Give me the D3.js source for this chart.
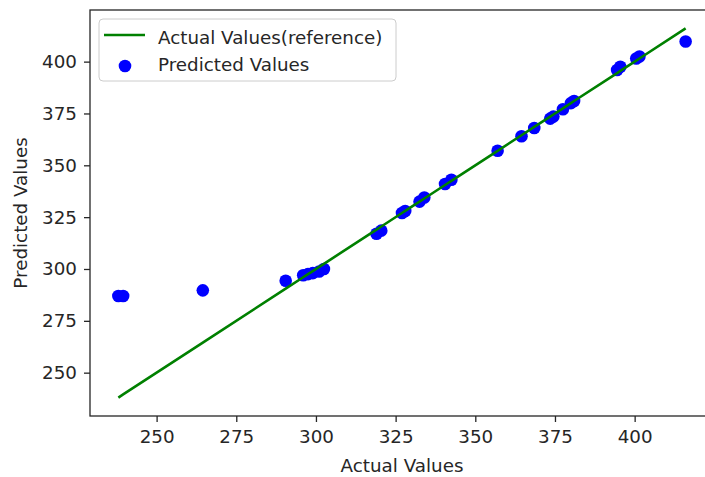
<!DOCTYPE html>
<html>
<head>
<meta charset="utf-8">
<script src="https://cdn.jsdelivr.net/npm/d3@7"></script>
<style>
  html, body { margin: 0; padding: 0; background: #fff; }
  svg { display: block; }
  text { font-family: "DejaVu Sans", sans-serif; fill: #262626; }
</style>
</head>
<body>
<svg id="chart" width="705" height="477"></svg>
<script>
// ---- data ----
const actualValues = [238, 239.5, 264.5, 290.5, 296, 297.5, 299, 301, 302.5,
  319, 320.5, 327, 328, 332.5, 334, 340.5, 342.5, 357, 364.5, 368.5,
  373.5, 374.5, 377.5, 380, 381, 394.5, 395.5, 400.5, 401.5, 416];
const predictedValues = [287, 287, 289.7, 294.3, 297, 297.5, 298, 298.8, 300,
  317, 318.5, 327, 328, 332.5, 334.5, 341, 343, 357, 364, 368,
  372.5, 373.5, 377, 380, 381, 396, 397.5, 401.5, 402.5, 409.7];
const tickValues = [250, 275, 300, 325, 350, 375, 400];
const legendLabels = ["Actual Values(reference)", "Predicted Values"];
const xLabel = "Actual Values";
const yLabel = "Predicted Values";

// ---- layout ----
const svg = d3.select("#chart");
const plot = { left: 90, right: 714, top: 10, bottom: 416 };
const fontSize = 18.3;

const dmin = Math.min(d3.min(actualValues), d3.min(predictedValues));
const dmax = Math.max(d3.max(actualValues), d3.max(predictedValues));
const pad = (dmax - dmin) * 0.05;
const xExt = d3.extent(actualValues);
const xPad = (xExt[1] - xExt[0]) * 0.05;

const x = d3.scaleLinear().domain([xExt[0] - xPad, xExt[1] + xPad]).range([plot.left, plot.right]);
const y = d3.scaleLinear().domain([dmin - pad, dmax + pad]).range([plot.bottom, plot.top]);

// scatter (below the line, as in matplotlib zorder)
svg.append("g").selectAll("circle")
  .data(actualValues.map((a, i) => [a, predictedValues[i]]))
  .join("circle")
  .attr("cx", d => x(d[0]))
  .attr("cy", d => y(d[1]))
  .attr("r", 6.3)
  .attr("fill", "#0000ff");

// reference line y = x
const linePts = actualValues.map(a => [a, a]).sort((a, b) => a[0] - b[0]);
svg.append("path")
  .datum(linePts)
  .attr("d", d3.line().x(d => x(d[0])).y(d => y(d[1])))
  .attr("fill", "none")
  .attr("stroke", "#008000")
  .attr("stroke-width", 2.6);

// axes
const xAxis = d3.axisBottom(x).tickValues(tickValues).tickSize(6).tickPadding(8).tickSizeOuter(0);
const yAxis = d3.axisLeft(y).tickValues(tickValues).tickSize(6).tickPadding(7).tickSizeOuter(0);

const gx = svg.append("g").attr("transform", `translate(0,${plot.bottom})`).call(xAxis);
const gy = svg.append("g").attr("transform", `translate(${plot.left},0)`).call(yAxis);
[gx, gy].forEach(g => {
  g.select(".domain").remove();
  g.selectAll(".tick line").attr("stroke", "#262626").attr("stroke-width", 1.3);
  g.selectAll(".tick text").attr("font-size", fontSize).attr("font-family", "DejaVu Sans").attr("fill", "#262626");
});

// spines
svg.append("rect")
  .attr("x", plot.left).attr("y", plot.top)
  .attr("width", plot.right - plot.left).attr("height", plot.bottom - plot.top)
  .attr("fill", "none").attr("stroke", "#262626").attr("stroke-width", 1.3);

// axis labels
svg.append("text")
  .attr("x", (plot.left + plot.right) / 2).attr("y", 472)
  .attr("text-anchor", "middle").attr("font-size", fontSize)
  .text(xLabel);
svg.append("text")
  .attr("transform", `translate(27,${(plot.top + plot.bottom) / 2}) rotate(-90)`)
  .attr("text-anchor", "middle").attr("font-size", fontSize)
  .text(yLabel);

// legend
const lg = svg.append("g");
lg.append("rect")
  .attr("x", 99).attr("y", 19).attr("width", 297).attr("height", 62)
  .attr("rx", 4).attr("fill", "#fff").attr("fill-opacity", 0.8)
  .attr("stroke", "#cccccc").attr("stroke-width", 1);
lg.append("line")
  .attr("x1", 104).attr("x2", 145).attr("y1", 35).attr("y2", 35)
  .attr("stroke", "#008000").attr("stroke-width", 2.6);
lg.append("circle").attr("cx", 125).attr("cy", 66).attr("r", 6.3).attr("fill", "#0000ff");
lg.selectAll("text.lab").data(legendLabels).join("text")
  .attr("class", "lab")
  .attr("x", 158).attr("y", (d, i) => 44 + i * 27)
  .attr("font-size", fontSize)
  .text(d => d);
</script>
</body>
</html>
